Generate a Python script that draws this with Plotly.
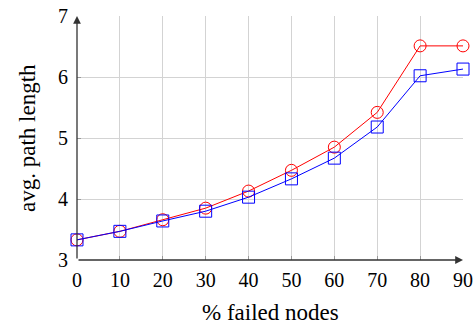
import plotly.graph_objects as go

# % of nodes that failed
failed_pct = [0, 10, 20, 30, 40, 50, 60, 70, 80, 90]
# average path length for the two scenarios
path_len_red = [3.33, 3.47, 3.66, 3.85, 4.13, 4.47, 4.85, 5.42, 6.51, 6.51]
path_len_blue = [3.33, 3.47, 3.64, 3.80, 4.03, 4.33, 4.67, 5.18, 6.02, 6.13]

x_ticks = [0, 10, 20, 30, 40, 50, 60, 70, 80, 90]
y_ticks = [3, 4, 5, 6, 7]

FONT = "Liberation Serif"

fig = go.Figure()
fig.add_trace(go.Scatter(
    x=failed_pct, y=path_len_red, mode="lines+markers",
    line=dict(color="red", width=1),
    marker=dict(symbol="circle-open", size=12, color="red", line=dict(width=1)),
    cliponaxis=False, showlegend=False))
fig.add_trace(go.Scatter(
    x=failed_pct, y=path_len_blue, mode="lines+markers",
    line=dict(color="blue", width=1),
    marker=dict(symbol="square-open", size=12, color="blue", line=dict(width=1)),
    cliponaxis=False, showlegend=False))

# axis lines drawn as arrows, in data coordinates
x0, x1 = x_ticks[0], x_ticks[-1]
y0, y1 = y_ticks[0], y_ticks[-1]
fig.add_annotation(x=x1, y=y0, ax=x0, ay=y0, xref="x", yref="y",
                   axref="x", ayref="y", showarrow=True, text="",
                   arrowhead=2, arrowsize=1.2, arrowwidth=1.3, arrowcolor="#333")
fig.add_annotation(x=x0, y=y1, ax=x0, ay=y0, xref="x", yref="y",
                   axref="x", ayref="y", showarrow=True, text="",
                   arrowhead=2, arrowsize=1.2, arrowwidth=1.3, arrowcolor="#333")

# axis titles
fig.add_annotation(text="% failed nodes", xref="paper", yref="paper", x=0.5, y=0,
                   yshift=-52, yanchor="middle", showarrow=False,
                   font=dict(family=FONT, size=23, color="black"))
fig.add_annotation(text="avg. path length", xref="paper", yref="paper", x=0, y=0.5,
                   xshift=-50, xanchor="center", yanchor="middle", textangle=-90,
                   showarrow=False, font=dict(family=FONT, size=23, color="black"))

fig.update_xaxes(range=[x0, x1], tickvals=x_ticks, showgrid=True, gridcolor="#d3d3d3",
                 gridwidth=1, zeroline=False, showline=False, automargin=False,
                 ticks="inside", ticklen=4, tickcolor="#999", ticklabelstandoff=6,
                 tickfont=dict(family=FONT, size=20, color="black"))
fig.update_yaxes(range=[y0, y1], tickvals=y_ticks, showgrid=True, gridcolor="#d3d3d3",
                 gridwidth=1, zeroline=False, showline=False, automargin=False,
                 ticks="inside", ticklen=4, tickcolor="#999", ticklabelstandoff=8,
                 tickfont=dict(family=FONT, size=20, color="black"))

fig.update_layout(width=475, height=326, margin=dict(l=77, r=12, t=16, b=66),
                  plot_bgcolor="white", paper_bgcolor="white")

fig.write_html("out.html")
